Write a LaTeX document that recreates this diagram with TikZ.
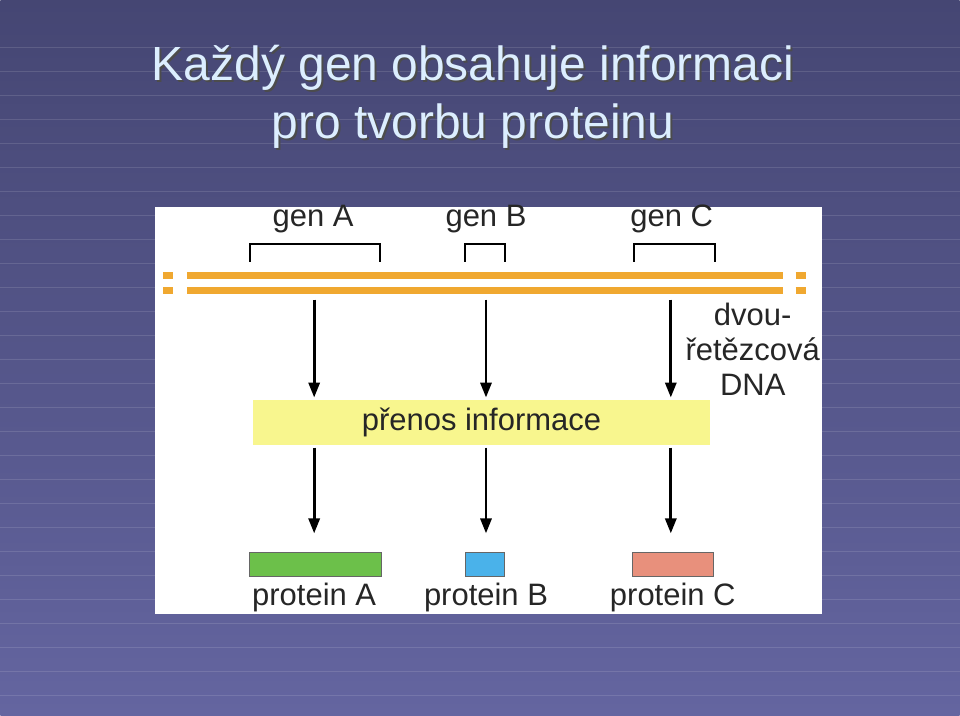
\documentclass[tikz,border=0pt]{standalone}
\usepackage{fontspec}
\setmainfont{Liberation Sans}
\usetikzlibrary{arrows.meta}
\definecolor{bgtop}{HTML}{454673}
\definecolor{bgbot}{HTML}{6465A0}
\definecolor{dnaorange}{HTML}{F0A830}
\definecolor{infoyellow}{HTML}{F8F68E}
\definecolor{protA}{HTML}{6CC04A}
\definecolor{protB}{HTML}{4AB2EA}
\definecolor{protC}{HTML}{E8907C}
\definecolor{titleblue}{HTML}{DCEEFF}
\begin{document}
\begin{tikzpicture}[
    x=1pt, y=-1pt,
    label/.style={font=\fontsize{31}{34}\selectfont, inner sep=0pt, text=black!85},
    strand/.style={dnaorange, line width=7pt},
    bracket/.style={line width=1.8pt},
    flow/.style={-{Triangle[length=15pt,width=11pt]}, line width=3pt},
    protbox/.style={draw=black!60, line width=0.6pt, minimum height=24pt, inner sep=0pt}
]
    % background
    \shade[top color=bgtop, bottom color=bgbot] (0,0) rectangle (960,716);
    \foreach \y in {48,72,96,120,144,168,192,216,240,264,288,312,336,360,384,408,432,456,480,504,528,552,576,600,624,648,672,696}
        \draw[white, opacity=0.12, line width=1pt] (0,\y) -- (960,\y);
    \useasboundingbox (0,0) rectangle (960,716);

    % title with shadow
    \foreach \dx/\c in {2/black!70, 0/titleblue}
    {
        \node[text=\c, font=\fontsize{48}{52}\selectfont, inner sep=0pt] at (473+\dx,68+\dx) {Každý gen obsahuje informaci};
        \node[text=\c, font=\fontsize{48}{52}\selectfont, inner sep=0pt] at (473+\dx,126+\dx) {pro tvorbu proteinu};
    }

    % panel
    \fill[white] (155,207) rectangle (822,615);

    % genes
    \node[label] (genA) at (313,219) {gen A};
    \node[label] (genB) at (486,219) {gen B};
    \node[label] (genC) at (672,219) {gen C};
    \draw[bracket] (250,262) -- (250,244) -- (380,244) -- (380,262);
    \draw[bracket] (465,262) -- (465,244) -- (505,244) -- (505,262);
    \draw[bracket] (634,262) -- (634,244) -- (715,244) -- (715,262);

    % double strand
    \draw[strand] (187,276) -- (783,276);
    \draw[strand] (187,291) -- (783,291);
    \foreach \y in {276,291}
    {
        \draw[strand] (163,\y) -- (173,\y);
        \draw[strand] (796,\y) -- (806,\y);
    }
    \node[label, align=center] (dna) at (753,350) {dvou-\\[1pt]řetězcová\\[1pt]DNA};

    % transfer
    \node[fill=infoyellow, minimum width=457pt, minimum height=45pt, inner sep=0pt] (info) at (481.5,422.5) {};
    \node[label] at (info) {přenos informace};
    \coordinate (topA) at (314,300);
    \coordinate (topB) at (486,300);
    \coordinate (topC) at (671,300);
    \draw[flow] (topA) -- (314,398);
    \draw[flow] (topB) -- (486,398);
    \draw[flow] (topC) -- (671,398);

    % proteins
    \node[protbox, fill=protA, minimum width=132pt] (pA) at (315,565) {};
    \node[protbox, fill=protB, minimum width=39pt] (pB) at (484.5,565) {};
    \node[protbox, fill=protC, minimum width=82pt] (pC) at (673,565) {};
    \draw[flow] (314,448) -- (314,534);
    \draw[flow] (486,448) -- (486,534);
    \draw[flow] (671,448) -- (671,534);
    \node[label] at (314,598) {protein A};
    \node[label] at (486,598) {protein B};
    \node[label] at (673,598) {protein C};
\end{tikzpicture}
\end{document}
